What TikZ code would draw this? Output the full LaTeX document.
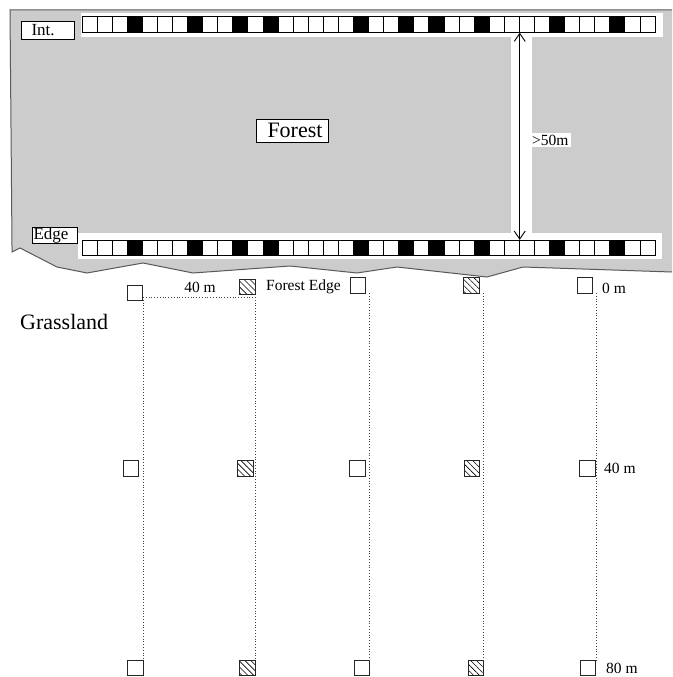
\documentclass[tikz,border=0pt]{standalone}
\usepackage{fontspec}
\setmainfont{Liberation Serif}
\usetikzlibrary{arrows.meta,patterns.meta,positioning}
\definecolor{forestgray}{RGB}{204,204,204}
\definecolor{rimgray}  {RGB}{90,90,90}

\begin{document}
\begin{tikzpicture}[x=1pt,y=-1pt,
  cell/.style={draw=black,line width=0.8pt,fill=white,minimum width=15.08pt,
               minimum height=15.5pt,inner sep=0pt},
  dark/.style={cell,fill=black},
  plotbox/.style={draw=black!85,line width=0.8pt,fill=white,minimum size=15.5pt,
               inner sep=0pt},
  hatchbox/.style={plotbox,pattern={Lines[angle=-45,distance=4.2pt,line width=0.6pt]}},
  tag/.style={draw=black,fill=white,inner xsep=0pt,inner ysep=0pt,align=left,
              font=\fontsize{17}{19}\selectfont},
  lbl/.style={font=\fontsize{15.5}{18}\selectfont,inner sep=1pt},
  transect/.style={dotted,line width=0.8pt,black!75},
]
\useasboundingbox (0,0) rectangle (672,677);

%% Forest patch (grey) with ragged edge
\fill[forestgray] (10,10) -- (672,10) -- (672,272) -- (523,267) -- (487,277)
  -- (397,267) -- (357,273) -- (290,266) -- (193,273) -- (143,263) -- (87,273)
  -- (57,267) -- (20,248) -- (12,252) -- cycle;
\draw[rimgray,line width=1pt] (672,10) -- (10,10) -- (12,246) -- (12,252)
  -- (20,248) -- (57,267) -- (87,273) -- (143,263) -- (193,273) -- (290,266)
  -- (357,273) -- (397,267) -- (487,277) -- (523,267) -- (672,272);

%% White bands behind the plot strips and the gap
\fill[white] (81,13) rectangle (663,37);
\fill[white] (78,233) rectangle (662,259);
\fill[white] (511,37) rectangle (532,233);

%% Plot strips: interior (t) and edge (b)
\foreach \i in {0,...,37}{
  \node[cell] (t\i) at (89.54+\i*15.08, 24.5) {};
  \node[cell] (b\i) at (89.54+\i*15.08, 248) {};
}
\foreach \i in {3,7,10,12,18,21,23,26,31,35}{
  \node[dark] at (t\i) {};
  \node[dark] at (b\i) {};
}

%% Distance between strips
\draw[{Straight Barb[length=8pt,width=11pt]}-{Straight Barb[length=8pt,width=11pt]},
      line width=0.9pt] (t28.south east) -- (b28.north east);
\node[lbl,fill=white,anchor=west,inner sep=2pt] (gap) at (530,140) {>50m};

%% Labels in the forest
\node[tag,text width=53pt,minimum height=18pt] (int) at (47.5,30.5)
  {\hspace*{10.5pt}Int.};
\node[tag,text width=45pt,minimum height=16pt] (edge) at (54.5,235)
  {\hspace*{1.5pt}Edge};
\node[draw=black,fill=white,inner xsep=0pt,inner ysep=0pt,minimum width=72pt,
      minimum height=23pt,font=\fontsize{22}{26}\selectfont] (forest)
  at (292,130.5) {\hspace*{6pt}Forest};

%% Grassland plots: rows at 0 m, 40 m, 80 m
\foreach \n/\x/\y/\s in {
  g01/135/293/plotbox, g02/247.5/287/hatchbox, g03/358/285.5/plotbox,
  g04/471.5/285.5/hatchbox, g05/585/285.5/plotbox,
  g11/131/468.5/plotbox, g12/245.5/468.5/hatchbox, g13/357.5/468.5/plotbox,
  g14/472/468.5/hatchbox, g15/587.5/468.5/plotbox,
  g21/135.5/668/plotbox, g22/247.5/668/hatchbox, g23/362/668/plotbox,
  g24/476/668/hatchbox, g25/588/668/plotbox}{
  \node[\s] (\n) at (\x,\y) {};
}

%% Transects
\foreach \x/\ys [count=\k] in {143/297,255/297,369/293,483/293,596/293}{
  \coordinate (top\k) at (\x,\ys);
  \coordinate (bot\k) at (\x,660);
  \draw[transect] (top\k) -- (bot\k);
}
\draw[transect] (top1) -- (top2);

%% Texts
\node[lbl] (spacing) at (200,287) {40 m};
\node[lbl,anchor=west] (fedge) at (265,286.5) {Forest Edge};
\node[lbl,anchor=west] (d0) at (601,288) {0 m};
\node[lbl,anchor=west] (d40) at (603,468.5) {40 m};
\node[lbl,anchor=west] (d80) at (605,668) {80 m};
\node[font=\fontsize{22}{26}\selectfont,anchor=west,inner sep=0pt] (grass)
  at (20,322) {Grassland};

\end{tikzpicture}
\end{document}
